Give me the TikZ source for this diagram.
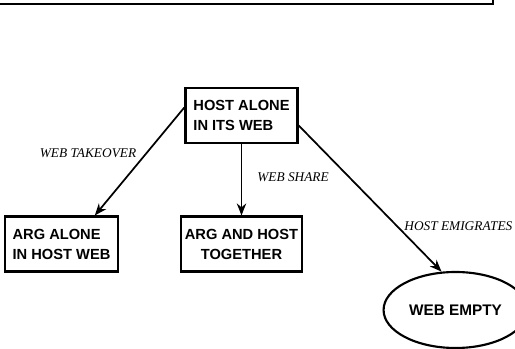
\documentclass[tikz,border=0pt]{standalone}
\usepackage{fontspec}
\setmainfont{Liberation Serif}
\setsansfont{Liberation Sans}
\usepackage{tikz}
\usetikzlibrary{arrows.meta,positioning,shapes.geometric}

\begin{document}
\begin{tikzpicture}[x=0.75pt, y=-0.75pt,
  statebox/.style={draw, rectangle, line width=1.8pt, minimum height=41pt, inner sep=3pt,
    font=\sffamily\bfseries\fontsize{11}{15}\selectfont},
  edgelabel/.style={font=\itshape\fontsize{10}{12}\selectfont},
  move/.style={-{Stealth[length=9pt,width=7pt]}, line width=1.3pt}]
  \useasboundingbox (0,0) rectangle (515,349);

  % bottom of the frame above
  \draw[line width=1.6pt] (0,4) -- (493,4) -- (493,0);

  \node[statebox, minimum width=84pt, align=left] (host) at (241.5,115.5) {HOST ALONE\\IN ITS WEB};
  \node[statebox, minimum width=85pt, align=left] (argalone) at (61.5,244) {ARG ALONE\\IN HOST WEB};
  \node[statebox, minimum width=83pt, align=center] (together) at (241.5,244) {ARG AND HOST\\TOGETHER};
  \node[draw, ellipse, line width=1.6pt, minimum width=88pt, minimum height=57pt,
    font=\sffamily\bfseries\fontsize{11.5}{14}\selectfont] (empty) at (455.5,310) {WEB EMPTY};

  \draw[move] ([yshift=6pt]host.west) -- ([xshift=25pt]argalone.north);
  \draw[move] (host) -- (together);
  \draw[move] ([yshift=-7.5pt]host.east) -- (empty.110);

  \node[edgelabel] (takeover) at (88,153) {WEB TAKEOVER};
  \node[edgelabel] (share) at (293,177) {WEB SHARE};
  \node[edgelabel, anchor=east, inner sep=1pt] (emigrates) at (514,226) {HOST EMIGRATES};
\end{tikzpicture}
\end{document}
